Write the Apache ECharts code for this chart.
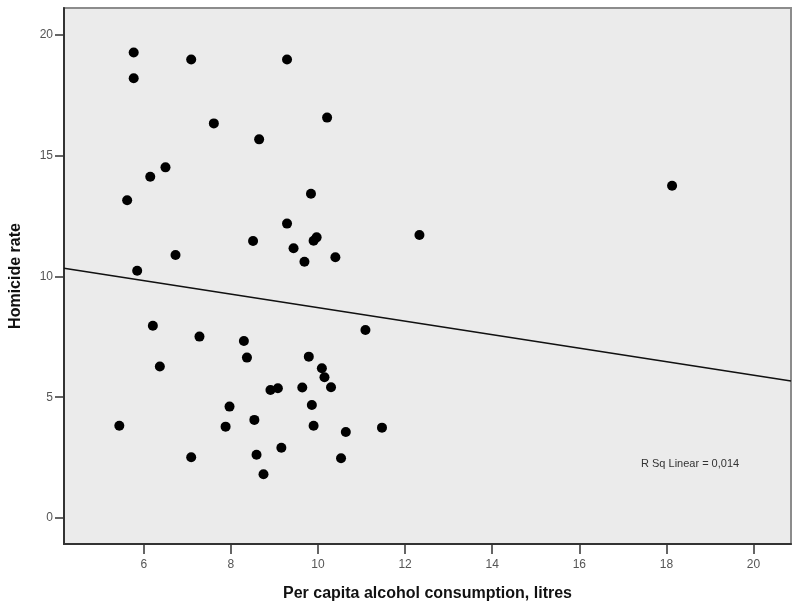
<!DOCTYPE html>
<html>
<head>
<meta charset="utf-8">
<script src="https://cdn.jsdelivr.net/npm/echarts@6/dist/echarts.min.js"></script>
<style>
  html, body { margin: 0; padding: 0; background: #fff; }
  #chart { width: 800px; height: 610px; }
</style>
</head>
<body>
<div id="chart"></div>
<script>
// alcohol consumption per capita (litres) vs homicide rate
const alcohol = [
  5.77, 5.77, 7.09, 9.29, 7.61, 8.65, 6.50, 6.15, 5.62, 9.29,
  8.51, 9.44, 6.73, 5.85, 10.21, 9.84, 9.90, 9.97, 9.69, 10.40,
  12.33, 18.13, 6.21, 7.28, 6.37, 8.30, 8.37, 8.91, 9.08, 9.64,
  7.97, 7.88, 8.54, 5.44, 7.09, 8.59, 9.16, 8.75, 11.09, 9.79,
  10.09, 10.15, 10.30, 9.86, 9.90, 10.64, 11.47, 10.53
]
const homicide = [
  19.28, 18.21, 18.99, 18.99, 16.34, 15.68, 14.52, 14.13, 13.16, 12.19,
  11.47, 11.17, 10.89, 10.24, 16.58, 13.43, 11.48, 11.62, 10.61, 10.80,
  11.72, 13.76, 7.96, 7.51, 6.27, 7.33, 6.64, 5.30, 5.37, 5.40,
  4.61, 3.78, 4.06, 3.82, 2.51, 2.62, 2.91, 1.81, 7.78, 6.68,
  6.20, 5.83, 5.41, 4.68, 3.82, 3.56, 3.74, 2.47
]
// linear fit line, read at the plot edges
const fitX = [4.17, 20.86]
const fitY = [10.34, 5.67]
const xTicks = [6, 8, 10, 12, 14, 16, 18, 20]
const yTicks = [0, 5, 10, 15, 20]
const rSqText = 'R Sq Linear = 0,014'

const chart = echarts.init(document.getElementById('chart'))
const fontFamily = '"Liberation Sans", Arial, sans-serif'

const option = {
  animation: false,
  grid: {
    left: 63,
    right: 9,
    top: 8,
    bottom: 66,
    show: true,
    backgroundColor: '#ebebeb',
    borderColor: '#8c8c8c',
    borderWidth: 2
  },
  xAxis: {
    type: 'value',
    min: 4.17,
    max: 20.86,
    name: 'Per capita alcohol consumption, litres',
    nameLocation: 'middle',
    nameGap: 42,
    nameTextStyle: { fontFamily, fontSize: 16, fontWeight: 'bold', color: '#111' },
    axisLine: { show: true, onZero: false, lineStyle: { color: '#333', width: 2 } },
    axisTick: { show: true, customValues: xTicks, length: 10, lineStyle: { color: '#333', width: 1.5 } },
    axisLabel: { customValues: xTicks, fontFamily, fontSize: 12, color: '#555', margin: 15 },
    splitLine: { show: false }
  },
  yAxis: {
    type: 'value',
    min: -1.08,
    max: 21.12,
    name: 'Homicide rate',
    nameLocation: 'middle',
    nameGap: 40,
    nameTextStyle: { fontFamily, fontSize: 16, fontWeight: 'bold', color: '#111' },
    axisLine: { show: true, onZero: false, lineStyle: { color: '#333', width: 2 } },
    axisTick: { show: true, customValues: yTicks, length: 9, lineStyle: { color: '#333', width: 1.5 } },
    axisLabel: { customValues: yTicks, fontFamily, fontSize: 12, color: '#555', margin: 11 },
    splitLine: { show: false }
  },
  series: [
    {
      type: 'line',
      data: fitX.map((x, i) => [x, fitY[i]]),
      showSymbol: false,
      lineStyle: { color: '#111', width: 1.5 },
      z: 2
    },
    {
      type: 'scatter',
      data: alcohol.map((x, i) => [x, homicide[i]]),
      symbolSize: 10,
      itemStyle: { color: '#000', opacity: 1 },
      z: 3
    }
  ],
  graphic: [
    {
      type: 'text',
      left: 641,
      top: 458,
      style: { text: rSqText, fontFamily, fontSize: 11, fill: '#333' }
    }
  ]
}
chart.setOption(option)
</script>
</body>
</html>
